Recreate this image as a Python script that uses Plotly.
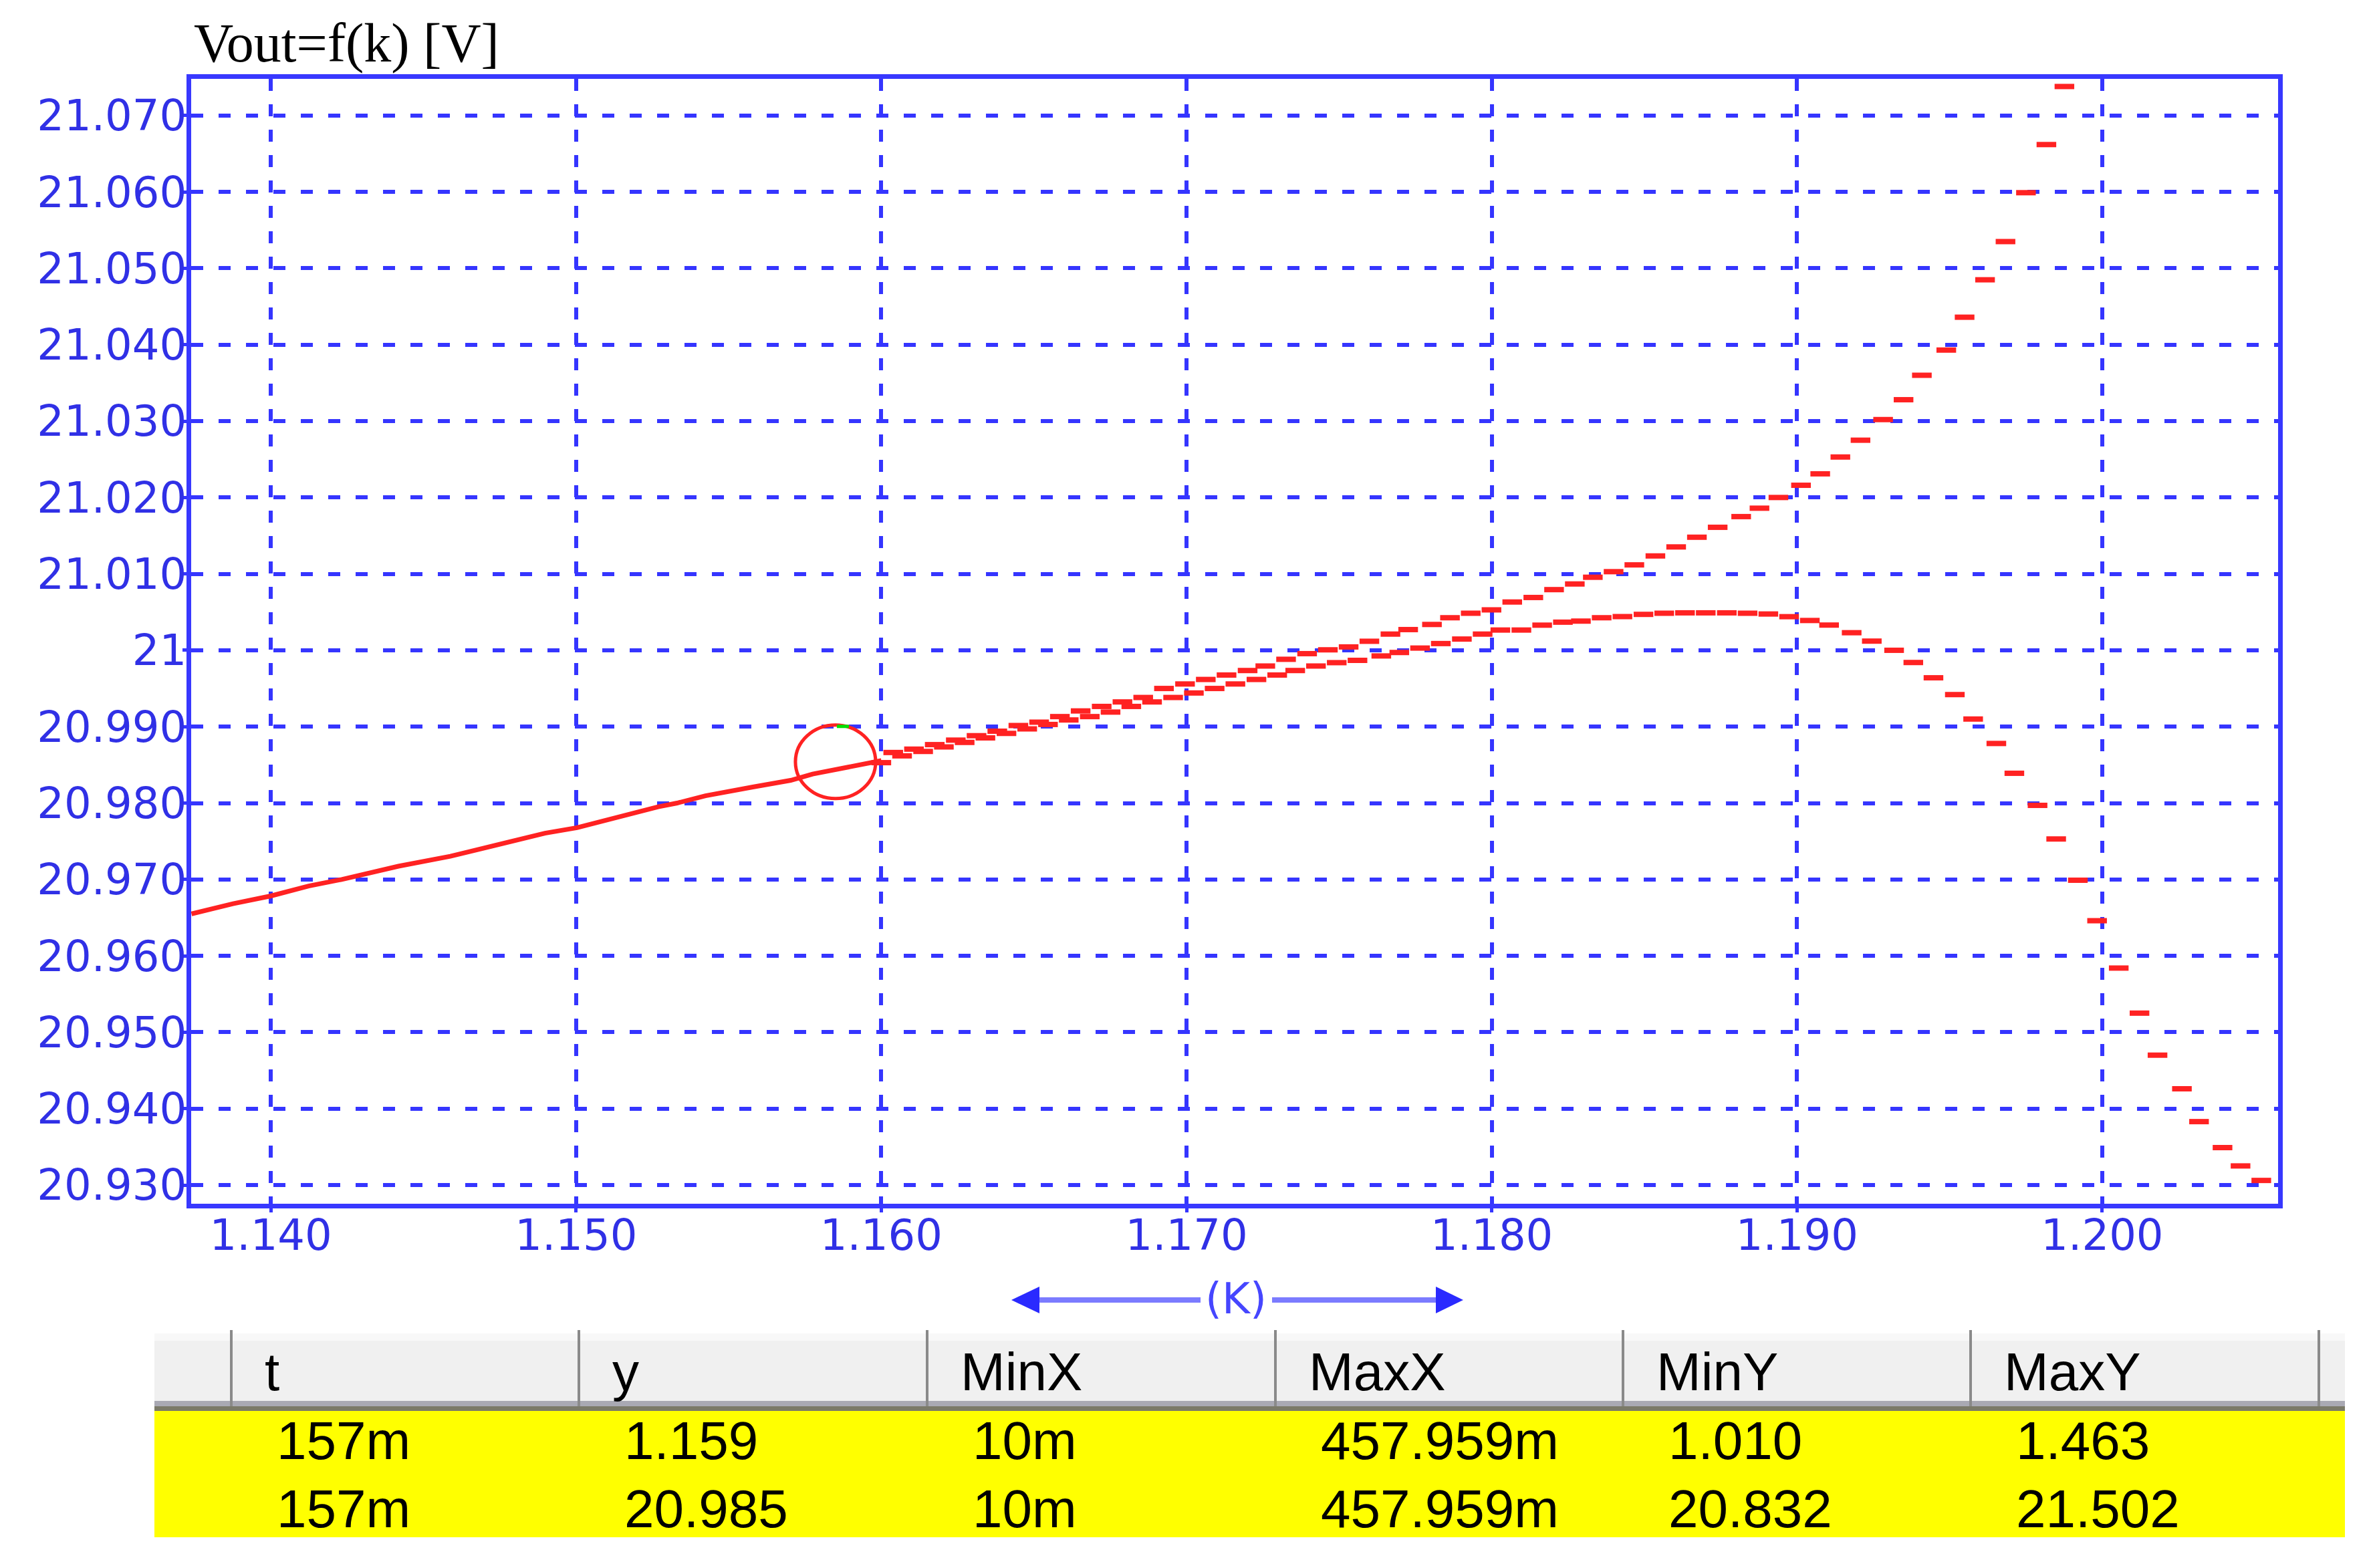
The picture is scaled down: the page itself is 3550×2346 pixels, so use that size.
import plotly.graph_objects as go

# ---------------- data ----------------
main_k = [1.1374, 1.13876, 1.14000, 1.14124, 1.14232, 1.14418, 1.14588, 1.14774, 1.14898,
          1.15003, 1.15115, 1.15207, 1.15269, 1.15331, 1.15424, 1.15579, 1.15703, 1.15775,
          1.15899, 1.16000]
main_v = [20.9655, 20.96683, 20.96784, 20.96914, 20.97000, 20.97173, 20.97303, 20.97490, 20.97605,
          20.97677, 20.97793, 20.97879, 20.97951, 20.98000, 20.98095, 20.98210, 20.98297, 20.98380,
          20.98480, 20.98556]

upper_k = [1.16039, 1.16107, 1.16175, 1.16244, 1.16312, 1.16380, 1.16449, 1.16517, 1.16585,
           1.16653, 1.16722, 1.16790, 1.16858, 1.16926, 1.16995, 1.17063, 1.17131, 1.17200,
           1.17258, 1.17326, 1.17395, 1.17463, 1.17531, 1.17599, 1.17668, 1.17726, 1.17804,
           1.17863, 1.17931, 1.17999, 1.18067, 1.18136, 1.18204, 1.18272, 1.18331, 1.18399,
           1.18467, 1.18536, 1.18604, 1.18672, 1.18740, 1.18817, 1.18877, 1.18939, 1.19013,
           1.19076, 1.19142, 1.19208, 1.19282, 1.19349, 1.19409, 1.19489, 1.19549, 1.19616,
           1.19683, 1.19750, 1.19817, 1.19876]
upper_v = [20.98662, 20.98706, 20.98765, 20.98824, 20.98882, 20.98941, 20.99015, 20.99059, 20.99132,
           20.99206, 20.99265, 20.99324, 20.99382, 20.99500, 20.99559, 20.99618, 20.99676, 20.99735,
           20.99794, 20.99882, 20.99956, 21.00006, 21.00044, 21.00118, 21.00212, 21.00271, 21.00338,
           21.00426, 21.00485, 21.00529, 21.00632, 21.00691, 21.00794, 21.00868, 21.00956, 21.01029,
           21.01118, 21.01235, 21.01353, 21.0148, 21.0161, 21.0175, 21.0186, 21.0200, 21.0216,
           21.0231, 21.0253, 21.0275, 21.0302, 21.0328, 21.0360, 21.0393, 21.0436, 21.0485,
           21.0535, 21.0599, 21.0662, 21.0738]

lower_k = [1.16000, 1.16068, 1.16137, 1.16205, 1.16273, 1.16341, 1.16410, 1.16478, 1.16546,
           1.16614, 1.16683, 1.16751, 1.16819, 1.16887, 1.16956, 1.17024, 1.17092, 1.17160,
           1.17229, 1.17297, 1.17356, 1.17424, 1.17492, 1.17560, 1.17638, 1.17697, 1.17765,
           1.17833, 1.17902, 1.17970, 1.18028, 1.18097, 1.18165, 1.18233, 1.18292, 1.18360,
           1.18428, 1.18497, 1.18565, 1.18633, 1.18701, 1.18770, 1.18838, 1.18906, 1.18974,
           1.19042, 1.19105, 1.19179, 1.19245, 1.19318, 1.19381, 1.19447, 1.19517, 1.19577,
           1.19653, 1.19712, 1.19788, 1.19849, 1.19920, 1.19983, 1.20054, 1.20122, 1.20181,
           1.20261, 1.20317, 1.20394, 1.20453, 1.20521]
lower_v = [20.98529, 20.98618, 20.98676, 20.98735, 20.98794, 20.98853, 20.98912, 20.98971, 20.99029,
           20.99088, 20.99132, 20.99191, 20.99265, 20.99324, 20.99382, 20.99441, 20.99500, 20.99559,
           20.99618, 20.99676, 20.99735, 20.99794, 20.99838, 20.99868, 20.99926, 20.99971, 21.00029,
           21.00088, 21.00147, 21.00212, 21.00265, 21.00265, 21.00329, 21.00368, 21.00382, 21.00426,
           21.00441, 21.00470, 21.00485, 21.00490, 21.00490, 21.00490, 21.00485, 21.00475, 21.00440,
           21.0039, 21.0033, 21.0023, 21.0012, 21.0000, 20.9984, 20.9964, 20.9942, 20.9910,
           20.9878, 20.9839, 20.9797, 20.9753, 20.9699, 20.9646, 20.9584, 20.9525, 20.9470,
           20.9426, 20.9383, 20.9349, 20.9325, 20.9306]

cursor_k = 1.1585
cursor_v = 20.9854

x_ticks = [1.140, 1.150, 1.160, 1.170, 1.180, 1.190, 1.200]
x_ticktext = ["1.140", "1.150", "1.160", "1.170", "1.180", "1.190", "1.200"]
y_ticks = [20.930, 20.940, 20.950, 20.960, 20.970, 20.980, 20.990, 21.000,
           21.010, 21.020, 21.030, 21.040, 21.050, 21.060, 21.070]
y_ticktext = ["20.930", "20.940", "20.950", "20.960", "20.970", "20.980", "20.990", "21",
              "21.010", "21.020", "21.030", "21.040", "21.050", "21.060", "21.070"]

table_headers = ["t", "y", "MinX", "MaxX", "MinY", "MaxY"]
table_row1 = ["157m", "1.159", "10m", "457.959m", "1.010", "1.463"]
table_row2 = ["157m", "20.985", "10m", "457.959m", "20.832", "21.502"]

title_text = "Vout=f(k) [V]"
xaxis_label = "(K)"

# ---------------- layout geometry ----------------
W, H = 3550, 2346
OFF = 8  # page body margin of the html output
L, R, T, B = 286 - OFF, 3550 - (3408 - OFF), 118 - OFF, 2346 - (1801 - OFF)
PW = W - L - R
PH = H - T - B


def px(xp):
    return (xp - OFF - L) / PW


def py(yp):
    return (H - B - (yp - OFF)) / PH


RED = "#ff2222"
BLUE = "#3535ff"
LABEL_BLUE = "#3030e6"

fig = go.Figure()

fig.add_trace(go.Scatter(x=main_k, y=main_v, mode="lines",
                         line=dict(color=RED, width=7), hoverinfo="skip", showlegend=False))
for bk, bv in ((upper_k, upper_v), (lower_k, lower_v)):
    fig.add_trace(go.Scatter(x=bk, y=bv, mode="markers",
                             marker=dict(symbol="line-ew", size=21, line=dict(width=8, color=RED)),
                             hoverinfo="skip", showlegend=False))

shapes = []
# cursor circle
shapes.append(dict(type="circle", xref="x", yref="y", xsizemode="pixel", ysizemode="pixel",
                   xanchor=cursor_k, yanchor=cursor_v, x0=-60, x1=60, y0=-55, y1=55,
                   line=dict(color=RED, width=5)))
shapes.append(dict(type="line", xref="x", yref="y", xsizemode="pixel", ysizemode="pixel",
                   xanchor=cursor_k, yanchor=cursor_v, x0=2, x1=20, y0=53, y1=53,
                   line=dict(color="#00e000", width=5)))

# axis-title arrows
ay = 1945
shapes.append(dict(type="line", xref="paper", yref="paper", x0=px(1548), x1=px(1796),
                   y0=py(ay), y1=py(ay), line=dict(color="#7b7bff", width=8)))
shapes.append(dict(type="line", xref="paper", yref="paper", x0=px(1903), x1=px(2156),
                   y0=py(ay), y1=py(ay), line=dict(color="#7b7bff", width=8)))
shapes.append(dict(type="path", xref="paper", yref="paper",
                   path=f"M {px(1513)} {py(ay)} L {px(1555)} {py(ay-20)} L {px(1555)} {py(ay+20)} Z",
                   fillcolor="#2a2aff", line=dict(width=0)))
shapes.append(dict(type="path", xref="paper", yref="paper",
                   path=f"M {px(2189)} {py(ay)} L {px(2148)} {py(ay-20)} L {px(2148)} {py(ay+20)} Z",
                   fillcolor="#2a2aff", line=dict(width=0)))

# table
TL, TR = 231, 3508
shapes.append(dict(type="rect", xref="paper", yref="paper", x0=px(TL), x1=px(TR),
                   y0=py(2104), y1=py(1995), fillcolor="#f0f0f0", line=dict(width=0), layer="below"))
shapes.append(dict(type="rect", xref="paper", yref="paper", x0=px(TL), x1=px(TR),
                   y0=py(2006), y1=py(1995), fillcolor="#f8f8f8", line=dict(width=0), layer="below"))
shapes.append(dict(type="rect", xref="paper", yref="paper", x0=px(TL), x1=px(TR),
                   y0=py(2104), y1=py(2096), fillcolor="#a9a9b3", line=dict(width=0), layer="below"))
shapes.append(dict(type="rect", xref="paper", yref="paper", x0=px(TL), x1=px(TR),
                   y0=py(2111), y1=py(2104), fillcolor="#7b7a68", line=dict(width=0), layer="below"))
shapes.append(dict(type="rect", xref="paper", yref="paper", x0=px(TL), x1=px(TR),
                   y0=py(2300), y1=py(2111), fillcolor="#ffff00", line=dict(width=0), layer="below"))
seps = [346, 866, 1387, 1908, 2428, 2948, 3469]
for s in seps:
    shapes.append(dict(type="line", xref="paper", yref="paper", x0=px(s), x1=px(s),
                       y0=py(1990), y1=py(2104), line=dict(color="#8a8a8a", width=4)))

annotations = []
annotations.append(dict(text=title_text, xref="paper", yref="paper", x=px(288), y=py(64),
                        xanchor="left", yanchor="middle", showarrow=False,
                        font=dict(family="Liberation Serif", size=82, color="#000000")))
annotations.append(dict(text=xaxis_label, xref="paper", yref="paper", x=px(1849), y=py(1943),
                        xanchor="center", yanchor="middle", showarrow=False,
                        font=dict(family="DejaVu Sans", size=64, color="#4646ff")))
TFONT = dict(family="Liberation Sans", size=80, color="#000000")
for i, h in enumerate(table_headers):
    annotations.append(dict(text=h, xref="paper", yref="paper", x=px(seps[i] + 48), y=py(2052),
                            xanchor="left", yanchor="middle", showarrow=False, font=TFONT))
for i, v in enumerate(table_row1):
    annotations.append(dict(text=v, xref="paper", yref="paper", x=px(seps[i] + 66), y=py(2155),
                            xanchor="left", yanchor="middle", showarrow=False, font=TFONT))
for i, v in enumerate(table_row2):
    annotations.append(dict(text=v, xref="paper", yref="paper", x=px(seps[i] + 66), y=py(2257),
                            xanchor="left", yanchor="middle", showarrow=False, font=TFONT))

axis_common = dict(showline=True, mirror=True, linecolor="#3838ff", linewidth=7,
                   showgrid=True, gridcolor=BLUE, gridwidth=6, zeroline=False,
                   ticks="outside", ticklen=6, tickwidth=5, tickcolor=BLUE,
                   tickfont=dict(family="DejaVu Sans", size=64, color=LABEL_BLUE))

fig.update_layout(
    width=W, height=H,
    margin=dict(l=L, r=R, t=T, b=B, pad=0),
    paper_bgcolor="#ffffff", plot_bgcolor="#ffffff",
    xaxis=dict(range=[1.13739, 1.20576], tickmode="array", tickvals=x_ticks, ticktext=x_ticktext,
               griddash="18px,20px", ticklabelstandoff=-21, **axis_common),
    yaxis=dict(range=[20.92755, 21.0748], tickmode="array", tickvals=y_ticks, ticktext=y_ticktext,
               griddash="18px,23px", ticklabelstandoff=-19, **axis_common),
    shapes=shapes,
    annotations=annotations,
    showlegend=False,
)

fig.write_html("out.html")
